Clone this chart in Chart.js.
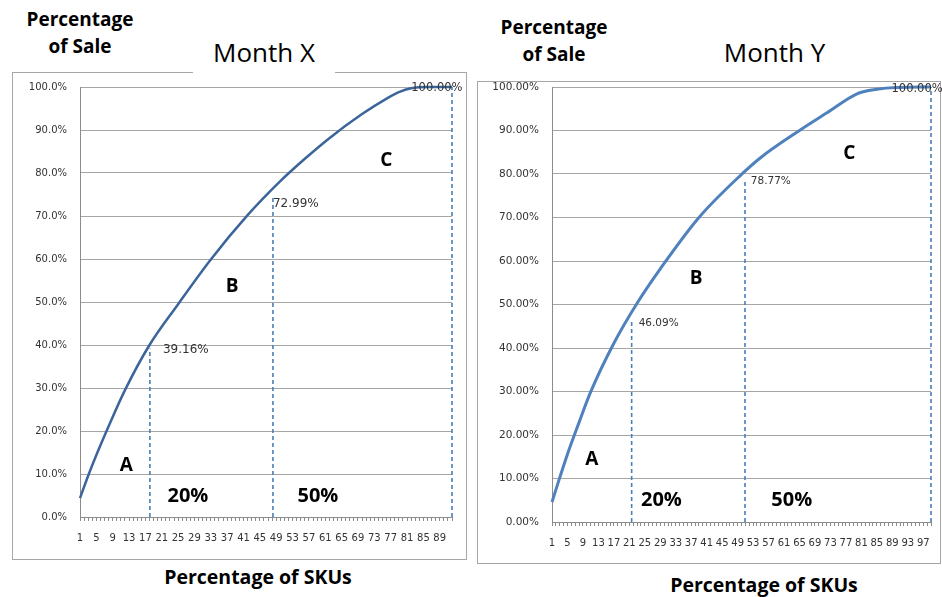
<!DOCTYPE html>
<html>
<head>
<meta charset="utf-8">
<script src="https://cdn.jsdelivr.net/npm/chart.js@4.4.1/dist/chart.umd.min.js"></script>
<style>
    body { margin: 0; width: 942px; height: 597px; background: #fff; position: relative; overflow: hidden; font-family: "Open Sans", sans-serif; color: #000; }
    .box { position: absolute; border: 1px solid #a6a6a6; box-sizing: border-box; z-index: 0; }
    .month { position: absolute; background: #fff; text-align: center; font-size: 26px; line-height: 32px; height: 40px; z-index: 1; }
    .head { position: absolute; width: 200px; text-align: center; font-weight: bold; font-size: 19px; line-height: 27px; }
    .foot { position: absolute; width: 300px; text-align: center; font-weight: bold; font-size: 19.5px; line-height: 26px; }
    canvas { position: absolute; z-index: 2; }
</style>
</head>
<body>
<div class="head" style="left: -20px; top: 6px;">Percentage<br>of Sale</div>
<div class="head" style="left: 454px; top: 14px;">Percentage<br>of Sale</div>

<div class="box" style="left: 12px; top: 72px; width: 455px; height: 488px;"></div>
<div class="box" style="left: 477px; top: 81px; width: 464px; height: 483px;"></div>

<div class="month" style="left: 193px; top: 36px; width: 142px;">Month X</div>
<div class="month" style="left: 703px; top: 36px; width: 143px;">Month Y</div>

<canvas id="chartX" width="470" height="510" style="left: 0; top: 60px;"></canvas>
<canvas id="chartY" width="472" height="510" style="left: 470px; top: 60px;"></canvas>

<div class="foot" style="left: 108px; top: 564px;">Percentage of SKUs</div>
<div class="foot" style="left: 614px; top: 572px;">Percentage of SKUs</div>

<script>
// Month X
const skuX = [1, 3, 5, 8, 12, 18, 25, 33, 42, 50, 56, 62, 70, 76, 79, 82, 86, 92];
const saleX = [4.4, 9.6, 14.4, 21.1, 29.5, 40, 49.5, 59.9, 70.2, 78.1, 83.3, 88.1, 93.7, 97.3, 98.8, 99.7, 100, 100];
const cutSkuX = [18.1, 48.2, 92];
const cutSaleX = [39.16, 74.4, 100];
const cutTextX = ['39.16%', '72.99%', '100.00%'];
const xLabelsX = [1, 5, 9, 13, 17, 21, 25, 29, 33, 37, 41, 45, 49, 53, 57, 61, 65, 69, 73, 77, 81, 85, 89];
const yLabelsX = ['0.0%', '10.0%', '20.0%', '30.0%', '40.0%', '50.0%', '60.0%', '70.0%', '80.0%', '90.0%', '100.0%'];

// Month Y
const skuY = [1, 3, 5, 8, 11, 17, 23, 29, 39, 50, 55, 65, 72, 80, 85, 90, 99];
const saleY = [4.6, 10.2, 15.6, 22.9, 29.9, 41.1, 50.3, 58.2, 70, 79.9, 83.8, 90, 94, 98.5, 99.5, 99.9, 100];
const cutSkuY = [21.6, 50.9, 99];
const cutSaleY = [46.09, 78.77, 100];
const cutTextY = ['46.09%', '78.77%', '100.00%'];
const xLabelsY = [1, 5, 9, 13, 17, 21, 25, 29, 33, 37, 41, 45, 49, 53, 57, 61, 65, 69, 73, 77, 81, 85, 89, 93, 97];
const yLabelsY = ['0.00%', '10.00%', '20.00%', '30.00%', '40.00%', '50.00%', '60.00%', '70.00%', '80.00%', '90.00%', '100.00%'];

const classes = ['A', 'B', 'C'];
const splits = ['20%', '50%'];

const notesPlugin = {
    id: 'notes',
    afterDatasetsDraw(chart, args, opts) {
        const ctx = chart.ctx, xs = chart.scales.x, ys = chart.scales.y;
        ctx.save();
        (opts.items || []).forEach((n) => {
            ctx.font = n.font;
            ctx.fillStyle = n.color || '#000';
            ctx.textAlign = n.align || 'center';
            ctx.textBaseline = 'middle';
            ctx.fillText(n.text, xs.getPixelForValue(n.x), ys.getPixelForValue(n.y));
        });
        ctx.restore();
    }
};

function buildChart(id, o) {
    let datasets = [{
        data: o.sku.map((s, i) => ({x: s, y: o.sale[i]})),
        borderColor: o.lineColor,
        borderWidth: o.lineWidth,
        pointRadius: 0,
        cubicInterpolationMode: 'monotone',
        fill: false,
        clip: false,
    }];
    o.cutSku.forEach((s, i) => {
        datasets.push({
            data: [{x: s, y: 0}, {x: s, y: o.cutSale[i]}],
            borderColor: '#4a7ebb',
            borderWidth: 1.6,
            borderDash: [4, 3],
            pointRadius: 0,
            clip: false,
        });
    });

    return new Chart(document.getElementById(id), {
        type: 'line',
        data: {datasets: datasets},
        options: {
            responsive: false,
            animation: false,
            layout: {padding: {top: o.padTop, right: o.padRight, left: 0, bottom: 0}},
            plugins: {
                legend: {display: false},
                tooltip: {enabled: false},
                notes: {items: o.notes},
            },
            scales: {
                x: {
                    type: 'linear',
                    min: 1,
                    max: o.max,
                    afterFit: (s) => { s.height = o.xHeight; },
                    grid: {drawOnChartArea: false, color: '#8c8c8c', tickLength: 4},
                    border: {color: '#8c8c8c'},
                    ticks: {
                        stepSize: 1,
                        autoSkip: false,
                        maxRotation: 0,
                        minRotation: 0,
                        padding: 11,
                        color: '#333',
                        font: {family: 'DejaVu Sans', size: 10},
                        callback: (v) => o.xLabels.includes(v) ? String(v) : '',
                    },
                },
                y: {
                    min: 0,
                    max: 100,
                    afterFit: (s) => { s.width = o.yWidth; },
                    grid: {color: '#a6a6a6', drawTicks: false},
                    border: {color: '#8c8c8c'},
                    ticks: {
                        stepSize: 10,
                        padding: 13,
                        color: '#333',
                        font: {family: 'DejaVu Sans', size: o.yFont},
                        callback: (v, i) => o.yLabels[i],
                    },
                },
            },
        },
        plugins: [notesPlugin],
    });
}

const big = 'bold 19px "Open Sans"';
const bigger = 'bold 20px "Open Sans"';

buildChart('chartX', {
    sku: skuX, sale: saleX, cutSku: cutSkuX, cutSale: cutSaleX,
    xLabels: xLabelsX, yLabels: yLabelsX, max: 92,
    lineColor: '#3b659a', lineWidth: 2.5,
    padTop: 27, padRight: 18, xHeight: 53, yWidth: 80, yFont: 10,
    notes: [
        {text: classes[0], x: 12.3, y: 11.9, font: big},
        {text: classes[1], x: 38.2, y: 53.5, font: big},
        {text: classes[2], x: 75.9, y: 82.8, font: big},
        {text: splits[0], x: 27.4, y: 4.7, font: bigger},
        {text: splits[1], x: 59.2, y: 4.7, font: bigger},
        {text: cutTextX[0], x: 21.3, y: 38.8, font: '12px "DejaVu Sans"', color: '#333', align: 'left'},
        {text: cutTextX[1], x: 48.2, y: 72.8, font: '12px "DejaVu Sans"', color: '#333', align: 'left'},
        {text: cutTextX[2], x: 88.3, y: 99.8, font: '11.5px "DejaVu Sans"', color: '#333'},
    ],
});

buildChart('chartY', {
    sku: skuY, sale: saleY, cutSku: cutSkuY, cutSale: cutSaleY,
    xLabels: xLabelsY, yLabels: yLabelsY, max: 99,
    lineColor: '#4f81bd', lineWidth: 3,
    padTop: 27, padRight: 9, xHeight: 48, yWidth: 82, yFont: 10.5,
    notes: [
        {text: classes[0], x: 11.3, y: 14.3, font: big},
        {text: classes[1], x: 38.3, y: 55.9, font: big},
        {text: classes[2], x: 77.9, y: 84.8, font: big},
        {text: splits[0], x: 29.3, y: 5.1, font: bigger},
        {text: splits[1], x: 63, y: 5.1, font: bigger},
        {text: cutTextY[0], x: 23.4, y: 45.7, font: '10.5px "DejaVu Sans"', color: '#333', align: 'left'},
        {text: cutTextY[1], x: 52.4, y: 78.4, font: '10.5px "DejaVu Sans"', color: '#333', align: 'left'},
        {text: cutTextY[2], x: 95.4, y: 99.5, font: '11.5px "DejaVu Sans"', color: '#333'},
    ],
});
</script>
</body>
</html>
